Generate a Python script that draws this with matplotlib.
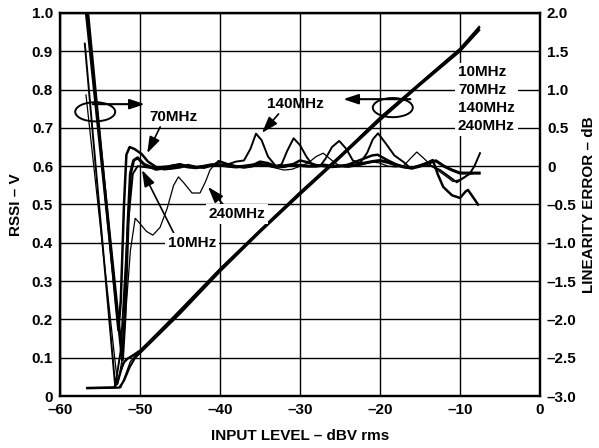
import matplotlib
matplotlib.use('Agg')
import matplotlib.pyplot as plt
from matplotlib.patches import Ellipse

plt.rcParams['font.family'] = ['Liberation Sans', 'DejaVu Sans']
plt.rcParams['font.weight'] = 'bold'
plt.rcParams['axes.labelweight'] = 'bold'

# x tick / y tick labels
x_ticks = [-60, -50, -40, -30, -20, -10, 0]
x_tick_labels = ['\u201360', '\u201350', '\u201340', '\u201330', '\u201320', '\u201310', '0']
rssi_ticks = [0, 0.1, 0.2, 0.3, 0.4, 0.5, 0.6, 0.7, 0.8, 0.9, 1.0]
rssi_tick_labels = ['0', '0.1', '0.2', '0.3', '0.4', '0.5', '0.6', '0.7', '0.8', '0.9', '1.0']
err_ticks = [-3.0, -2.5, -2.0, -1.5, -1.0, -0.5, 0, 0.5, 1.0, 1.5, 2.0]
err_tick_labels = ['\u20133.0', '\u20132.5', '\u20132.0', '\u20131.5', '\u20131.0', '\u20130.5',
                   '0', '0.5', '1.0', '1.5', '2.0']

# RSSI (V) vs input level, four frequencies
rssi_x1 = [-56.6, -53.3, -52.8, -52.1, -51.5, -50, -45, -40, -35, -30, -25, -20, -15, -10, -7.6]
rssi_y1 = [0.021, 0.022, 0.035, 0.086, 0.098, 0.115, 0.22, 0.329, 0.43, 0.53, 0.625, 0.725, 0.815, 0.905, 0.962]
rssi_x2 = [-56.6, -52.6, -52.0, -51.25, -50.6, -50, -45, -40, -35, -30, -25, -20, -15, -10, -7.6]
rssi_y2 = [0.020, 0.022, 0.04, 0.077, 0.10, 0.112, 0.215, 0.325, 0.428, 0.526, 0.622, 0.72, 0.812, 0.90, 0.955]
rssi_x3 = [-56.6, -52.4, -51.9, -51.2, -50, -45, -40, -35, -30, -25, -20, -15, -10, -7.6]
rssi_y3 = [0.021, 0.022, 0.05, 0.09, 0.118, 0.225, 0.333, 0.434, 0.533, 0.628, 0.728, 0.818, 0.908, 0.965]
rssi_x4 = [-56.6, -53.1, -52.5, -51.8, -50, -45, -40, -35, -30, -25, -20, -15, -10, -7.6]
rssi_y4 = [0.022, 0.023, 0.06, 0.095, 0.12, 0.222, 0.331, 0.432, 0.531, 0.626, 0.726, 0.816, 0.906, 0.96]

# linearity error (dB)
err10_x = [-56.7, -52.2, -51.9, -51.5, -51.2, -50.8, -50.3, -49.5, -48, -47, -46, -45, -44, -43, -42,
           -41, -40, -39, -38, -37, -36, -35, -34, -33, -32, -31, -30, -29, -28, -27, -26, -25, -24,
           -23, -22, -21, -20, -19, -18, -17, -16, -15, -14, -13, -12, -11, -10, -9, -8, -7.6]
err10_y = [2.0, -2.53, -2.0, -0.75, -0.10, 0.075, 0.11, 0.025, -0.04, -0.025, 0.0, 0.015, -0.01, -0.02, 0.0,
           0.02, 0.015, 0.0, -0.01, 0.0, 0.015, 0.025, 0.01, 0.0, 0.005, 0.02, 0.01, 0.0, 0.0, 0.015, 0.0, 0.005, 0.0,
           0.02, 0.04, 0.06, 0.075, 0.05, 0.015, -0.01, -0.025, 0.0, 0.04, 0.07, 0.0, -0.05, -0.09, -0.09, -0.09, -0.09]

err70_x = [-56.5, -52.7, -52.4, -52.0, -51.7, -51.3, -50.7, -49.8, -49, -48, -47, -46, -45, -44, -43, -42,
           -41, -40, -39, -38, -37, -36, -35, -34, -33, -32, -31, -30, -29, -28, -27, -26, -25, -24, -23,
           -22, -21, -20.3, -19, -18, -17, -16, -15, -14, -13.4, -12.8, -12.1, -11, -10, -9.3, -9, -8.4, -7.75]
err70_y = [2.0, -2.14, -1.75, -0.5, 0.15, 0.25, 0.225, 0.16, 0.06, -0.01, -0.04, -0.03, -0.015, 0.015, -0.01, -0.02,
           0.01, 0.06, 0.025, 0.0, -0.01, 0.01, 0.06, 0.04, 0.0, -0.01, 0.02, 0.075, 0.05, 0.015, 0.0, -0.01, 0.0, 0.02, 0.06,
           0.1, 0.14, 0.15, 0.075, 0.025, -0.01, -0.025, 0.01, 0.05, 0.08, -0.1, -0.27, -0.38, -0.415, -0.33, -0.31, -0.4, -0.5]

err140_x = [-56.9, -53.1, -52.4, -51.5, -50.9, -50.3, -49.5, -48.5, -47.5, -46.5, -45, -44, -43, -42, -41, -40,
            -39, -38, -37, -36.2, -35.5, -34.8, -34, -33, -32.3, -31.6, -30.8, -30, -29.2, -28.5, -27.5,
            -26.8, -26, -25.1, -24.2, -23.4, -22.5, -21.6, -20.9, -20.25, -19.3, -18.2, -17, -16.2, -15.4,
            -14.5, -13.5, -12.5, -11.5, -10.4, -9.5, -8.8, -8.2, -7.5]
err140_y = [1.6, -2.875, -2.4, -0.75, -0.1, 0.0, -0.01, -0.025, -0.01, 0.0, 0.03, 0.0, -0.01, 0.0, 0.015, 0.0,
            0.025, 0.06, 0.075, 0.225, 0.425, 0.34, 0.125, 0.0, 0.025, 0.2, 0.365, 0.275, 0.125, 0.025, 0.0,
            0.1, 0.25, 0.33, 0.225, 0.075, 0.04, 0.175, 0.35, 0.43, 0.3, 0.14, 0.05, -0.025, 0.0,
            0.025, 0.0, -0.05, -0.125, -0.21, -0.15, -0.1, 0.0, 0.17]

err240_x = [-56.75, -52.8, -52.2, -51.2, -50.6, -50.0, -49.2, -48.4, -47.5, -46.6, -45.8, -45.2, -44.5, -43.5,
            -42.5, -41.8, -41.25, -40.2, -39, -38, -37, -36, -35, -34, -33, -32, -31, -30, -29, -28, -27.1,
            -26, -25, -24, -23, -22, -21, -20, -19, -18, -17, -16.2, -15.4, -14.5, -13.5, -12.5, -11.5,
            -10.9, -10, -9, -8, -7.6]
err240_y = [0.93, -2.85, -2.5, -1.1, -0.68, -0.75, -0.85, -0.9, -0.8, -0.55, -0.25, -0.14, -0.22, -0.35,
            -0.35, -0.2, -0.05, 0.075, 0.015, -0.01, -0.025, -0.01, 0.025, 0.0, -0.025, -0.05, -0.04, 0.0, 0.04, 0.125, 0.17,
            0.075, 0.0, -0.01, 0.0, 0.025, 0.06, 0.04, 0.0, -0.01, 0.01, 0.1, 0.185, 0.1, 0.0, -0.075, -0.15,
            -0.2, -0.175, -0.11, -0.09, -0.09]

fig = plt.figure(figsize=(5.99, 4.48), dpi=100)
ax = fig.add_axes([60/599, 52/448, 480/599, 383/448])
ax2 = ax.twinx()

ax.plot(rssi_x1, rssi_y1, color='black', lw=1.5)
ax.plot(rssi_x2, rssi_y2, color='black', lw=1.5)
ax.plot(rssi_x3, rssi_y3, color='black', lw=1.0)
ax.plot(rssi_x4, rssi_y4, color='black', lw=1.0)

ax2.plot(err10_x, err10_y, color='black', lw=2.2)
ax2.plot(err70_x, err70_y, color='black', lw=1.8)
ax2.plot(err140_x, err140_y, color='black', lw=1.4)
ax2.plot(err240_x, err240_y, color='black', lw=0.9)

ax.set_xlim(-60, 0)
ax.set_ylim(0, 1.0)
ax2.set_ylim(-3.0, 2.0)
ax.set_xticks(x_ticks)
ax.set_xticklabels(x_tick_labels)
ax.set_yticks(rssi_ticks)
ax.set_yticklabels(rssi_tick_labels)
ax2.set_yticks(err_ticks)
ax2.set_yticklabels(err_tick_labels)

ax.grid(True, color='black', lw=1.0)
ax.set_axisbelow(True)
for a in (ax, ax2):
    a.tick_params(length=0, labelsize=11, pad=5)
    for s in a.spines.values():
        s.set_linewidth(1.6)

ax.set_xlabel('INPUT LEVEL \u2013 dBV rms', fontsize=11, labelpad=9)
ax.set_ylabel('RSSI \u2013 V', fontsize=11, labelpad=6)
ax2.set_ylabel('LINEARITY ERROR \u2013 dB', fontsize=11, labelpad=4, rotation=90)

# ellipses + arrows showing which axis each family uses
big_head = dict(arrowstyle='-|>,head_length=0.9,head_width=0.3', color='black', lw=1.5,
                shrinkA=0, shrinkB=0)
ax.add_patch(Ellipse((-55.6, 0.742), 5.0, 0.05, fill=False, color='black', lw=1.4))
ax.annotate('', xy=(-49.4, 0.762), xytext=(-55.9, 0.762), arrowprops=big_head)
ax.add_patch(Ellipse((-18.4, 0.753), 5.0, 0.05, fill=False, color='black', lw=1.4))
ax.annotate('', xy=(-24.6, 0.775), xytext=(-16.2, 0.775), arrowprops=big_head)

arrow = dict(arrowstyle='-|>,head_length=0.9,head_width=0.3', color='black', lw=1.2,
             shrinkA=0, shrinkB=0)
ax.annotate('70MHz', xy=(-49.1, 0.634), xytext=(-45.8, 0.728), fontsize=11, ha='center', va='center',
            arrowprops=dict(arrow, relpos=(0.25, 0.0)))
ax.annotate('140MHz', xy=(-34.75, 0.687), xytext=(-30.6, 0.762), fontsize=11, ha='center', va='center',
            arrowprops=dict(arrow, relpos=(0.25, 0.0)))
ax.annotate('240MHz', xy=(-41.5, 0.546), xytext=(-37.9, 0.475), fontsize=11, ha='center', va='center',
            bbox=dict(fc='white', ec='none', pad=2),
            arrowprops=dict(arrow, relpos=(0.3, 1.0)))
ax.annotate('10MHz', xy=(-49.75, 0.59), xytext=(-43.5, 0.40), fontsize=11, ha='center', va='center',
            bbox=dict(fc='white', ec='none', pad=2),
            arrowprops=dict(arrow, relpos=(0.15, 1.0)))
ax.text(-10.25, 0.775, '10MHz\n70MHz\n140MHz\n240MHz', fontsize=11, ha='left', va='center',
        linespacing=1.35, bbox=dict(fc='white', ec='none', pad=2))

fig.savefig('out.png', dpi=100)
